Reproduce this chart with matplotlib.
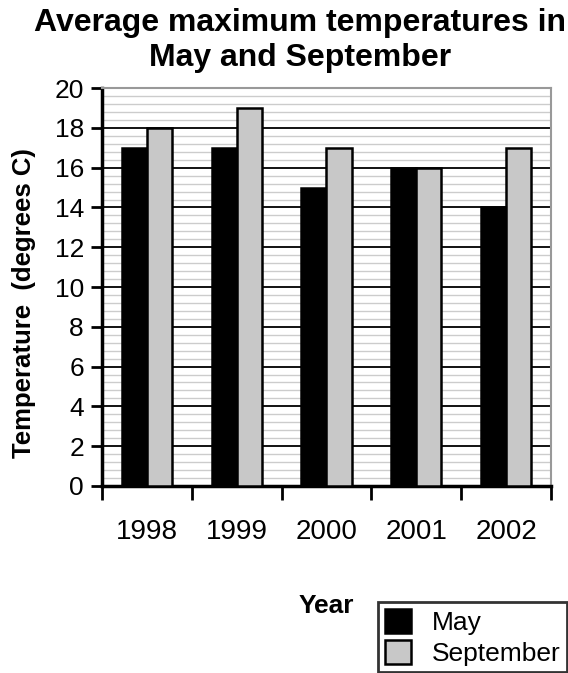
import numpy as np
import matplotlib
matplotlib.use("Agg")
import matplotlib.pyplot as plt
from matplotlib.ticker import MultipleLocator

plt.rcParams['font.family'] = ['Liberation Sans', 'DejaVu Sans']

years = ['1998', '1999', '2000', '2001', '2002']
may = [17, 17, 15, 16, 14]
september = [18, 19, 17, 16, 17]

fig = plt.figure(figsize=(5.68, 6.73), dpi=100)
ax = fig.add_axes([0.1796, 0.278, 0.7904, 0.591])

x = np.arange(len(years))
w = 0.28
ax.bar(x - w/2, may, w, color='black', edgecolor='black', linewidth=1.8,
       label='May', zorder=3)
ax.bar(x + w/2, september, w, color='#c8c8c8', edgecolor='black', linewidth=1.8,
       label='September', zorder=3)

ax.set_xlim(-0.5, len(years) - 0.5)
ax.set_ylim(0, 20)

# gridlines: thin gray every 0.4, black every 2
ax.yaxis.set_major_locator(MultipleLocator(2))
ax.yaxis.set_minor_locator(MultipleLocator(0.4))
ax.grid(which='minor', axis='y', color='#cccccc', linewidth=1.0, zorder=0)
ax.grid(which='major', axis='y', color='black', linewidth=1.3, zorder=1)
ax.tick_params(axis='y', which='minor', length=0)
ax.tick_params(axis='y', which='major', direction='out', length=8, width=2,
               labelsize=19, pad=5)

ax.set_xticks(x)
ax.set_xticklabels(years, fontsize=20)
ax.tick_params(axis='x', which='major', length=0, pad=24)
ax.set_xticks(np.arange(-0.5, len(years), 1), minor=True)
ax.tick_params(axis='x', which='minor', direction='out', length=10, width=2)

for s in ['left', 'bottom']:
    ax.spines[s].set_linewidth(2.5)
    ax.spines[s].set_color('black')
for s in ['top', 'right']:
    ax.spines[s].set_linewidth(1.5)
    ax.spines[s].set_color('#999999')

ax.set_xlabel('Year', fontsize=19, fontweight='bold', labelpad=35)
ax.set_ylabel('Temperature  (degrees C)', fontsize=18.5, fontweight='bold')
ax.yaxis.set_label_coords(-0.148, 0.46)
fig.suptitle('Average maximum temperatures in\nMay and September',
             fontsize=23, fontweight='bold', x=0.528, y=0.988, linespacing=1.2)

leg = fig.legend(loc='lower right', bbox_to_anchor=(1.0, 0.0), fontsize=19,
                 frameon=True, fancybox=False, edgecolor='black',
                 handlelength=1.0, handleheight=1.0, handletextpad=0.8,
                 labelspacing=0.2, borderpad=0.25, borderaxespad=0.02)
leg.get_frame().set_linewidth(2)

fig.savefig('out.png', dpi=100)
